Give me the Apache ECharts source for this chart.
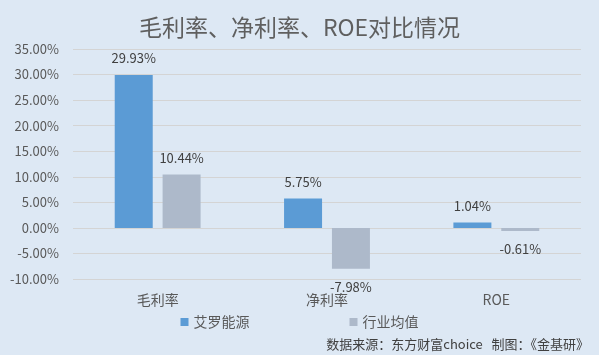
<!DOCTYPE html>
<html>
<head>
<meta charset="utf-8">
<script src="https://cdn.jsdelivr.net/npm/echarts@6.0.0/dist/echarts.min.js"></script>
<style>
  html, body { margin: 0; padding: 0; background: #dde8f4; }
  #chart { width: 599px; height: 355px; }
</style>
</head>
<body>
<div id="chart"></div>
<script>
const categories = ["毛利率", "净利率", "ROE"];
const seriesNames = ["艾罗能源", "行业均值"];
const companyValues = [29.93, 5.75, 1.04];
const industryValues = [10.44, -7.98, -0.61];

const font = "'Noto Sans CJK SC', 'Noto Sans', sans-serif";

// positive values get label above, negative below
function withLabels(values) {
    return values.map(v => ({
        value: v,
        label: v >= 0 ? { position: "top", distance: 10 } : { position: "bottom", distance: 12 }
    }));
}

const chart = echarts.init(document.getElementById("chart"));
const option = {
    backgroundColor: "#dde8f4",
    textStyle: { fontFamily: font },
    title: {
        text: "毛利率、净利率、ROE对比情况",
        left: "center",
        top: 11,
        textStyle: { fontSize: 23, fontWeight: "normal", color: "#5f5f5f", fontFamily: font }
    },
    legend: {
        data: seriesNames,
        bottom: 21,
        left: "center",
        icon: "rect",
        itemWidth: 8,
        itemHeight: 8,
        itemGap: 100,
        textStyle: { fontSize: 14, color: "#595959", fontFamily: font }
    },
    graphic: [{
        type: "text",
        right: 10,
        bottom: 4,
        style: {
            text: "数据来源：东方财富choice   制图：《金基研》",
            fontSize: 13,
            fill: "#404040",
            fontFamily: font
        }
    }],
    grid: { left: 73, right: 18, top: 49, bottom: 76 },
    xAxis: {
        type: "category",
        data: categories,
        axisLine: { show: false, onZero: false },
        axisTick: { show: false },
        axisLabel: { fontSize: 14, color: "#595959", margin: 14, fontFamily: font }
    },
    yAxis: {
        type: "value",
        min: -10,
        max: 35,
        interval: 5,
        axisLine: { show: false },
        axisTick: { show: false },
        axisLabel: {
            fontSize: 13,
            color: "#595959",
            margin: 14,
            fontFamily: font,
            formatter: v => v.toFixed(2) + "%"
        },
        splitLine: { lineStyle: { color: "#d4d4d4", width: 1 } }
    },
    series: [
        {
            name: seriesNames[0],
            type: "bar",
            data: withLabels(companyValues),
            barWidth: 38,
            barGap: "26%",
            itemStyle: { color: "#5b9bd5" },
            label: {
                show: true,
                fontSize: 13,
                color: "#404040",
                fontFamily: font,
                formatter: p => p.value.toFixed(2) + "%"
            }
        },
        {
            name: seriesNames[1],
            type: "bar",
            data: withLabels(industryValues),
            barWidth: 38,
            itemStyle: { color: "#adb9ca" },
            label: {
                show: true,
                fontSize: 13,
                color: "#404040",
                fontFamily: font,
                formatter: p => p.value.toFixed(2) + "%"
            }
        }
    ]
};
chart.setOption(option);
</script>
</body>
</html>
